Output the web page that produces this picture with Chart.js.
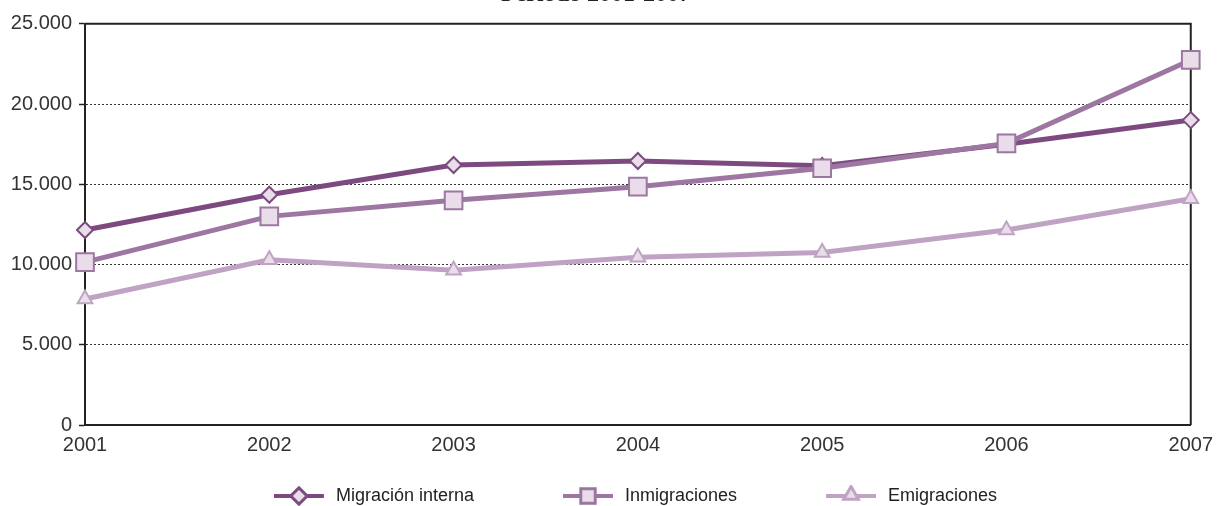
<!DOCTYPE html>
<html>
<head>
<meta charset="utf-8">
<script src="https://cdn.jsdelivr.net/npm/chart.js@4.4.1/dist/chart.umd.min.js"></script>
<style>
    html, body { margin: 0; padding: 0; background: #fff; overflow: hidden; }
    #wrap { position: relative; width: 1221px; height: 506px; overflow: hidden; }
    #chart { position: absolute; left: 0; top: -20px; }
</style>
</head>
<body>
<div id="wrap"><canvas id="chart" width="1221" height="535" style="width:1221px;height:535px"></canvas></div>
<script>
        // Data
        const years = ['2001', '2002', '2003', '2004', '2005', '2006', '2007'];
        const migracionInterna = [12150, 14350, 16200, 16450, 16150, 17500, 19000];
        const inmigraciones = [10150, 13000, 14000, 14850, 16000, 17550, 22750];
        const emigraciones = [7850, 10300, 9650, 10450, 10750, 12150, 14100];
        const yMin = 0, yMax = 25000, yStep = 5000;

        const colors = {
            interna: '#7d4a80',
            inmig: '#9d76a1',
            emig: '#c0a2c5',
            fill: '#e8dde9'
        };

        // Format 25000 -> 25.000
        function fmt(v) {
            return String(v).replace(/\B(?=(\d{3})+(?!\d))/g, '.');
        }

        // Legend symbol: line with marker, blank space on the left
        function legendSymbol(color, style) {
            const c = document.createElement('canvas');
            c.width = 132;
            c.height = 22;
            const g = c.getContext('2d');
            const x0 = 79, x1 = 129, cy = 11, cx = (x0 + x1) / 2;
            g.strokeStyle = color;
            g.lineWidth = 4;
            g.beginPath();
            g.moveTo(x0, cy);
            g.lineTo(x1, cy);
            g.stroke();
            Chart.helpers.drawPoint(g, {
                pointStyle: style,
                radius: style === 'rect' ? 9.5 : 7.5,
                borderWidth: 2,
                rotation: 0
            }, cx, style === 'triangle' ? cy - 1 : cy);
            g.fillStyle = colors.fill;
            g.strokeStyle = color;
            g.lineWidth = 2;
            g.fill();
            g.stroke();
            return c;
        }

        // Frame on top and right of plot
        const framePlugin = {
            id: 'frame',
            beforeDatasetsDraw(chart) {
                const { ctx, chartArea: a } = chart;
                ctx.save();
                ctx.strokeStyle = '#222';
                ctx.lineWidth = 2;
                ctx.beginPath();
                ctx.moveTo(a.left, a.top);
                ctx.lineTo(a.right, a.top);
                ctx.lineTo(a.right, a.bottom);
                ctx.stroke();
                ctx.restore();
            }
        };

        const ctx = document.getElementById('chart').getContext('2d');

        const datasets = [{
            label: 'Migración interna',
            data: migracionInterna,
            borderColor: colors.interna,
            backgroundColor: colors.fill,
            pointStyle: 'rectRot',
            pointRadius: 8,
            order: 1
        }, {
            label: 'Inmigraciones',
            data: inmigraciones,
            borderColor: colors.inmig,
            backgroundColor: colors.fill,
            pointStyle: 'rect',
            pointRadius: 12.5,
            order: 0
        }, {
            label: 'Emigraciones',
            data: emigraciones,
            borderColor: colors.emig,
            backgroundColor: colors.fill,
            pointStyle: 'triangle',
            pointRadius: 8.5,
            order: 2
        }];

        datasets.forEach(ds => {
            ds.borderWidth = 5;
            ds.pointBorderWidth = 2;
            ds.pointBackgroundColor = colors.fill;
            ds.pointBorderColor = ds.borderColor;
            ds.tension = 0;
            ds.clip = false;
        });

        const symbols = datasets.map(ds => legendSymbol(ds.borderColor, ds.pointStyle));

        new Chart(ctx, {
            type: 'line',
            data: { labels: years, datasets: datasets },
            plugins: [framePlugin],
            options: {
                responsive: false,
                animation: false,
                layout: { padding: { left: 0, right: 29, top: 0, bottom: 0 } },
                scales: {
                    x: {
                        offset: false,
                        grid: { display: false, drawTicks: false },
                        border: { display: true, color: '#222', width: 2 },
                        ticks: {
                            color: '#333',
                            padding: 8,
                            maxRotation: 0,
                            font: { family: 'Liberation Sans', size: 20 }
                        },
                        afterFit: scale => { scale.height = 52; }
                    },
                    y: {
                        min: yMin,
                        max: yMax,
                        ticks: {
                            stepSize: yStep,
                            color: '#333',
                            padding: 7,
                            font: { family: 'Liberation Sans', size: 20 },
                            callback: v => fmt(v)
                        },
                        grid: {
                            color: c => (c.tick && (c.tick.value === yMin || c.tick.value === yMax)) ? 'rgba(0,0,0,0)' : '#333',
                            lineWidth: 1,
                            tickColor: '#222',
                            tickLength: 6,
                            tickWidth: 1.5
                        },
                        border: { display: true, color: '#222', width: 2, dash: [2, 2] },
                        afterFit: scale => { scale.width = 85; }
                    }
                },
                plugins: {
                    title: {
                        display: true,
                        text: 'Periodo 2001-2007',
                        color: '#222',
                        font: { family: 'Liberation Serif', size: 24, weight: 'bold' },
                        padding: { top: 0, bottom: 15 }
                    },
                    legend: {
                        position: 'bottom',
                        labels: {
                            usePointStyle: true,
                            pointStyleWidth: 132,
                            padding: 10,
                            color: '#222',
                            font: { family: 'Liberation Sans', size: 18 },
                            sort: (a, b) => a.datasetIndex - b.datasetIndex,
                            generateLabels: chart => {
                                const items = Chart.defaults.plugins.legend.labels.generateLabels(chart);
                                items.forEach(it => { it.pointStyle = symbols[it.datasetIndex]; });
                                return items;
                            }
                        }
                    },
                    tooltip: { enabled: false }
                }
            }
        });
</script>
</body>
</html>
